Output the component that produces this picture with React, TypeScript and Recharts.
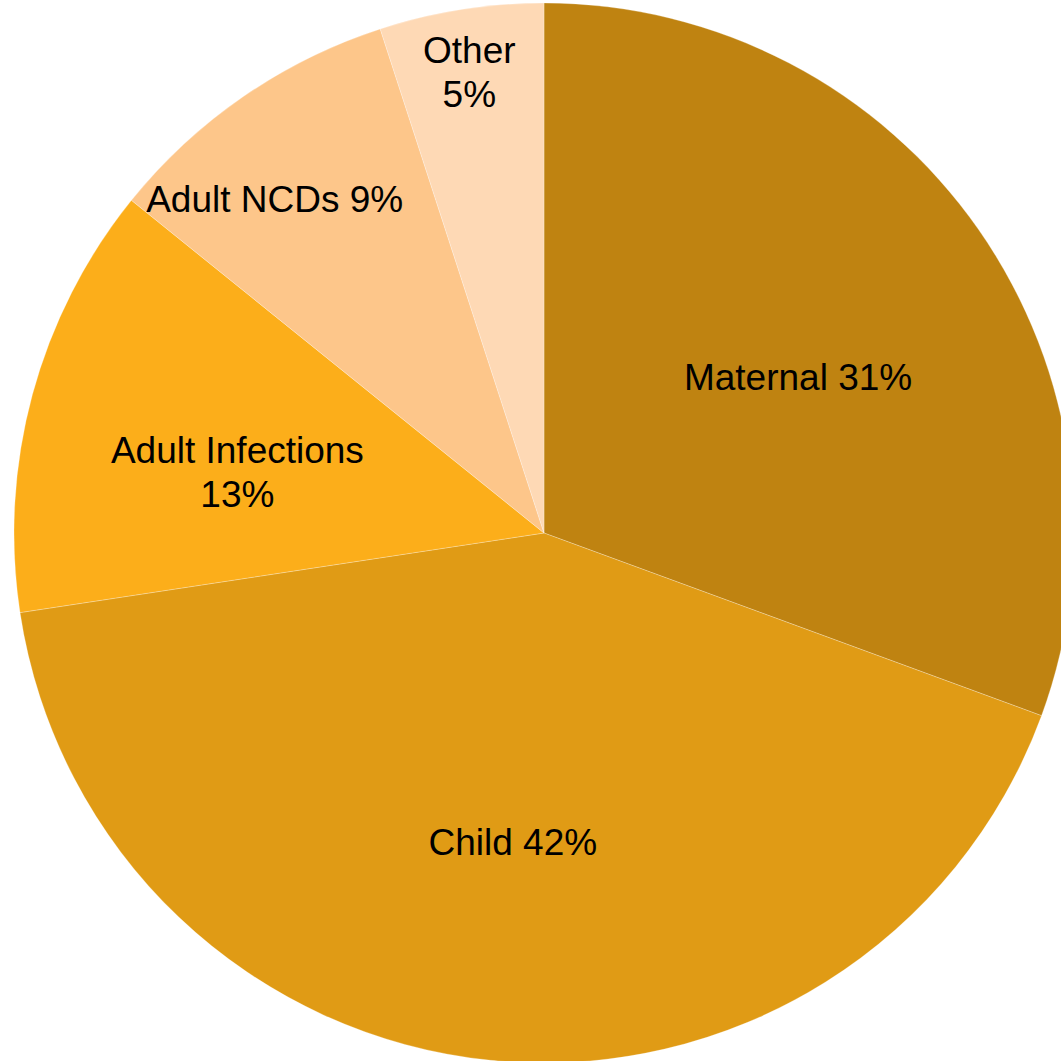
import React from "react";
import { PieChart, Pie, Cell } from "recharts";

const categories = ["Maternal", "Child", "Adult Infections", "Adult NCDs", "Other"];
const shares = [30.6, 42.0, 13.2, 9.2, 5.0];
const shareLabels = ["31%", "42%", "13%", "9%", "5%"];
const wrapLabel = [false, false, true, false, true];

const colors = ["#BF8311", "#E09B15", "#FCAE1A", "#FDC68A", "#FED9B5"];
// label placement: fraction of radius and angular nudge (degrees, recharts convention)
const labelRadius = [0.563, 0.586, 0.59, 0.81, 0.881];
const labelNudge = [-3.3, 0, 3.8, 4.3, 0.2];

const data = categories.map((name, i) => ({ name, value: shares[i], pct: shareLabels[i] }));

const RAD = Math.PI / 180;
const FONT = 37;
const LINE = 44;

const renderLabel = (props: any) => {
  const { cx, cy, midAngle, outerRadius, index } = props;
  const ang = (midAngle + labelNudge[index]) * RAD;
  const r = outerRadius * labelRadius[index];
  const x = cx + r * Math.cos(ang);
  const y = cy - r * Math.sin(ang);
  const lines = wrapLabel[index]
    ? [categories[index], shareLabels[index]]
    : [categories[index] + " " + shareLabels[index]];
  const off = 0.716 * FONT / 2;
  return (
    <text
      x={x}
      textAnchor="middle"
      fill="#000"
      style={{ fontFamily: "'Liberation Sans', Arial, sans-serif", fontSize: FONT }}
    >
      {lines.map((l, k) => (
        <tspan key={k} x={x} y={y + off + (k - (lines.length - 1) / 2) * LINE}>
          {l}
        </tspan>
      ))}
    </text>
  );
};

export default function App() {
  return (
    <div style={{ position: "absolute", left: 0, top: 0, width: 1061, height: 1061, background: "#fff" }}>
      <PieChart width={1061} height={1061} margin={{ top: 0, right: 0, bottom: 0, left: 0 }}>
        <Pie
          data={data}
          dataKey="value"
          nameKey="name"
          cx={544}
          cy={533}
          outerRadius={530}
          startAngle={90}
          endAngle={-270}
          stroke="#ffffff"
          strokeWidth={0.75}
          strokeOpacity={0.35}
          label={renderLabel}
          labelLine={false}
          isAnimationActive={false}
        >
          {data.map((d, i) => (
            <Cell key={d.name} fill={colors[i]} />
          ))}
        </Pie>
      </PieChart>
    </div>
  );
}
